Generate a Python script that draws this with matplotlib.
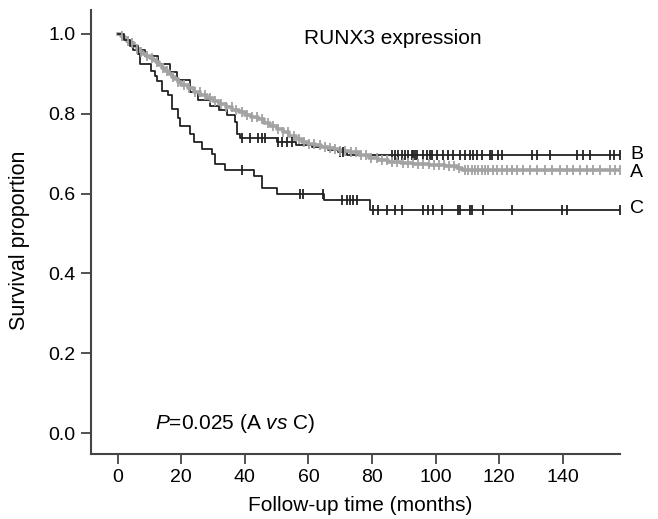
import matplotlib
matplotlib.use("Agg")
import matplotlib.pyplot as plt
import numpy as np

plt.rcParams['font.family'] = ['Liberation Sans', 'DejaVu Sans']
plt.rcParams['mathtext.fontset'] = 'custom'
plt.rcParams['mathtext.rm'] = 'Liberation Sans'
plt.rcParams['mathtext.it'] = 'Liberation Sans:italic'

# Kaplan-Meier steps (months, survival proportion)
a_time = [0, 1, 2, 3, 4, 5, 6, 7, 8, 9, 10, 11, 12, 13, 14, 15, 16, 17, 18, 19,
          20, 22, 24, 26, 28, 30, 32, 34, 36, 38, 40, 42, 44, 46, 48, 50, 52, 54,
          56, 58, 60, 62, 64, 66, 68, 70, 73, 76, 79, 82, 85, 89, 93, 98, 103,
          106.6, 108.2]
a_surv = [1.0, 0.995, 0.99, 0.983, 0.977, 0.97, 0.962, 0.955, 0.95, 0.945, 0.94,
          0.935, 0.93, 0.922, 0.915, 0.907, 0.9, 0.893, 0.886, 0.879, 0.872,
          0.864, 0.855, 0.847, 0.839, 0.831, 0.824, 0.817, 0.81, 0.804, 0.798,
          0.792, 0.786, 0.778, 0.77, 0.762, 0.754, 0.745, 0.737, 0.73, 0.725,
          0.721, 0.718, 0.715, 0.712, 0.708, 0.703, 0.697, 0.69, 0.685, 0.68,
          0.677, 0.675, 0.672, 0.669, 0.665, 0.658]
a_cens = [1.5, 3.2, 4.6, 6.1, 7.4, 9.3, 10.8, 12.5, 14.2, 15.6, 17.3, 19.1, 20.8,
          22.5, 24.3, 25.8, 27.4, 29.1, 30.7, 32.4, 34.2, 35.9, 37.3, 39.0, 40.6,
          42.3, 43.9, 45.5, 47.2, 48.8, 50.4, 52.1, 53.7, 55.3, 57.0, 58.6, 60.2,
          61.8, 63.5, 65.1, 66.7, 68.4, 70.0, 71.6, 73.3, 74.9, 76.5, 78.2, 79.8,
          81.4, 83.1, 84.7, 86.3, 88.0, 89.6, 91.2, 92.9, 94.5, 96.1, 97.8, 99.4,
          101.0, 102.7, 104.3, 105.9, 107.5, 109.3, 110.3, 111.4, 112.4, 113.4,
          114.5, 115.5, 116.6, 118.2, 119.2, 120.8, 122.4, 123.9, 125.5, 127.6,
          129.7, 131.8, 134.4, 136.5, 139.1, 141.2, 143.3, 145.4, 147.5, 149.6,
          151.7, 154.9, 156.4, 158]

b_time = [0, 1, 2, 3, 4.8, 8.6, 12.8, 16.5, 18.6, 22.7, 25.3, 29, 32, 34.3, 36.9,
          37.4, 38.5, 50, 56, 61, 66, 69.4, 72]
b_surv = [1.0, 0.995, 0.99, 0.98, 0.96, 0.946, 0.925, 0.904, 0.885, 0.855, 0.835,
          0.82, 0.81, 0.796, 0.78, 0.75, 0.74, 0.729, 0.722, 0.716, 0.71, 0.704,
          0.697]
b_cens = [39, 41.6, 44.2, 45.3, 46.4, 50.5, 51.6, 53.2, 54.7, 70, 71, 86.2, 87.2,
          88.3, 89.3, 90.4, 91.4, 92.5, 93, 93.5, 94.1, 96.1, 97.2, 98.2, 98.8,
          100.3, 102.4, 104, 105.6, 107.7, 109.2, 110.8, 111.9, 112.9, 114.5,
          117.1, 117.6, 119.7, 120.8, 130.2, 131.8, 136, 144.4, 146.5, 148.6,
          154.9, 156, 158]

c_time = [0, 2, 4, 6.5, 7, 10.5, 11.7, 12.5, 13.8, 15.9, 17, 19, 19.5, 22.7, 24,
          26.4, 29.6, 30.6, 33.8, 43, 45.3, 50, 65, 79.4]
c_surv = [1.0, 0.985, 0.97, 0.95, 0.925, 0.908, 0.895, 0.883, 0.858, 0.846, 0.812,
          0.79, 0.77, 0.75, 0.73, 0.712, 0.70, 0.675, 0.658, 0.645, 0.615, 0.60,
          0.583, 0.56]
c_cens = [39, 57.3, 58.4, 64.7, 70.5, 72, 73, 74, 75.2, 80.4, 82, 84.6, 87.2,
          89.3, 96.1, 97.7, 99.3, 102, 107, 107.7, 110.8, 111.4, 115, 124, 139.7,
          141.3, 158]

x_ticks = [0, 20, 40, 60, 80, 100, 120, 140]
y_ticks = [0.0, 0.2, 0.4, 0.6, 0.8, 1.0]
end_time = 158


def km_curve(ax, t, s, cens, color, lw, ms):
    t = list(t) + [end_time]
    s = list(s) + [s[-1]]
    ax.step(t, s, where='post', color=color, lw=lw, zorder=2)
    idx = np.searchsorted(t, cens, side='right') - 1
    cy = np.array(s)[idx]
    ax.plot(cens, cy, ls='none', marker='|', ms=ms, mew=1.3, color=color, zorder=3)


fig = plt.figure(figsize=(6.58, 5.19), dpi=100)
ax = fig.add_axes([0.1383, 0.1252, 0.804, 0.8555])

km_curve(ax, b_time, b_surv, b_cens, '#222222', 1.3, 7)
km_curve(ax, a_time, a_surv, a_cens, '#a3a3a3', 2.6, 7)
km_curve(ax, c_time, c_surv, c_cens, '#222222', 1.3, 7)

ax.set_xlim(-8.4, 158)
ax.set_ylim(-0.0525, 1.06)
ax.set_xticks(x_ticks)
ax.set_yticks(y_ticks)
ax.set_yticklabels(['%.1f' % v for v in y_ticks])
ax.tick_params(labelsize=14, length=7, width=1.3, color='#444444', pad=4)
for side in ['top', 'right']:
    ax.spines[side].set_visible(False)
for side in ['left', 'bottom']:
    ax.spines[side].set_color('#444444')
    ax.spines[side].set_linewidth(1.5)

ax.set_xlabel('Follow-up time (months)', fontsize=15)
ax.set_ylabel('Survival proportion', fontsize=15.5)
ax.xaxis.label.set_va('center')
ax.yaxis.label.set_va('center')
ax.xaxis.set_label_coords(0.508, -0.117)
ax.yaxis.set_label_coords(-0.135, 0.482)

ax.text(86.4, 0.975, 'RUNX3 expression', fontsize=15, ha='center', va='baseline')
ax.text(11.7, 0.01, r'$\it{P}$=0.025 (A $\it{vs}$ C)', fontsize=15, ha='left', va='baseline')

for lab, yv in [('B', 0.698), ('A', 0.652), ('C', 0.562)]:
    ax.text(161.2, yv, lab, fontsize=14, ha='left', va='center', clip_on=False)

fig.savefig('out.png', dpi=100)
